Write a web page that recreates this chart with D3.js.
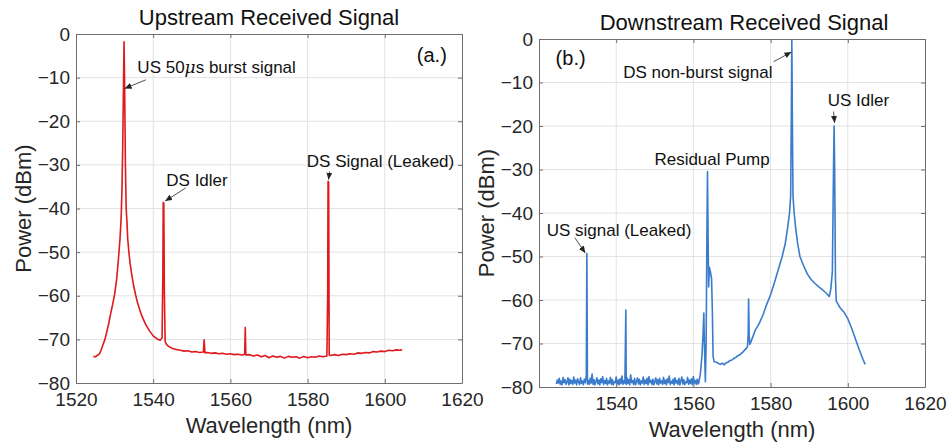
<!DOCTYPE html>
<html>
<head>
<meta charset="utf-8">
<script src="https://cdn.jsdelivr.net/npm/d3@7"></script>
<style>
    body { margin: 0; background: #fff; }
    svg { font-family: Arial, "Liberation Sans", sans-serif; }
</style>
</head>
<body>
<svg id="chart" width="949" height="442"></svg>
<script>
// Tick values shared by both panels
var xTicks = [1520, 1540, 1560, 1580, 1600, 1620];
var yTicks = [0, -10, -20, -30, -40, -50, -60, -70, -80];

// Upstream received spectrum (wavelength nm, power dBm)
var upstream = [
    [1524.5, -73.9], [1525, -74], [1525.5, -73.7], [1526, -73.4], [1526.5, -72.5], [1527, -71.2],
    [1527.5, -70], [1528, -68.2], [1528.5, -66.3], [1529, -64], [1529.5, -62], [1530, -59.7],
    [1530.5, -56.5], [1531, -51.5], [1531.4, -47], [1531.7, -42], [1531.9, -36], [1532.1, -26],
    [1532.3, -12], [1532.45, -1.8], [1532.6, -12], [1532.8, -30], [1533, -40], [1533.2, -43],
    [1533.4, -47], [1533.7, -50], [1534, -52.5], [1534.5, -55.5], [1535, -58], [1535.5, -60],
    [1536, -61.8], [1537, -64.5], [1538, -66.5], [1539, -68], [1540, -69.2], [1541, -69.9],
    [1541.8, -70.2], [1542.3, -69.6], [1542.5, -55], [1542.6, -38.6], [1542.75, -38.8],
    [1542.9, -60], [1543.1, -70.5], [1543.5, -71.2], [1544, -71.6], [1545, -72.1], [1546, -72.3],
    [1547, -72.5], [1548, -72.7], [1549, -72.6], [1550, -72.9], [1551, -72.8], [1552, -73],
    [1553, -72.9], [1553.2, -70.1], [1553.4, -73.1], [1554, -73], [1555, -73.2], [1556, -73.1],
    [1557, -73.3], [1558, -73.2], [1559, -73.4], [1560, -73.3], [1561, -73.5], [1562, -73.4],
    [1563, -73.6], [1563.7, -73.4], [1563.85, -67.3], [1564, -73.6], [1565, -73.5], [1566, -73.8],
    [1567, -73.6], [1568, -74], [1569, -73.7], [1570, -74.2], [1571, -73.8], [1572, -74.1],
    [1573, -73.9], [1574, -74.3], [1575, -73.9], [1576, -74.1], [1577, -74], [1578, -74.3],
    [1579, -73.9], [1580, -74.2], [1581, -74], [1582, -74.1], [1583, -73.8], [1584, -74],
    [1585, -73.8], [1585.2, -60], [1585.3, -33.8], [1585.45, -33.9], [1585.6, -73.6],
    [1586, -73.7], [1587, -73.5], [1588, -73.7], [1589, -73.4], [1590, -73.5], [1591, -73.3],
    [1592, -73.4], [1593, -73.1], [1594, -73.2], [1595, -73], [1596, -73.1], [1597, -72.8],
    [1598, -72.9], [1599, -72.7], [1600, -72.8], [1601, -72.5], [1602, -72.6], [1603, -72.4],
    [1604, -72.5], [1604.5, -72.3]
];

// Downstream received spectrum (wavelength nm, power dBm)
var downstream = [
    [1524.5, -79.3], [1524.75, -78.4], [1525, -79.1], [1525.25, -78.0], [1525.5, -79.4], [1525.75, -78.6],
    [1526, -79.5], [1526.25, -77.8], [1526.5, -79.0], [1526.75, -78.3], [1527, -79.4], [1527.25, -78.9],
    [1527.5, -77.9], [1527.75, -79.5], [1528, -78.2], [1528.25, -79.2], [1528.5, -78.5], [1528.75, -79.4],
    [1529, -77.7], [1529.25, -79.1], [1529.5, -78.4], [1529.75, -79.5], [1530, -78.1], [1530.25, -78.8],
    [1530.5, -79.4], [1530.75, -77.9], [1531, -79.2], [1531.25, -78.6], [1531.5, -79.5], [1531.75, -78.2],
    [1532, -79.0], [1532.25, -77.4], [1532.4, -49.3], [1532.55, -79.3], [1532.75, -78.5], [1533, -79.4],
    [1533.25, -78.0], [1533.5, -79.1], [1533.75, -77.0], [1534, -79.4], [1534.25, -78.3], [1534.5, -79.5],
    [1534.75, -78.7], [1535, -77.9], [1535.25, -79.3], [1535.5, -78.4], [1535.75, -79.5], [1536, -78.1],
    [1536.25, -79.0], [1536.5, -77.6], [1536.75, -79.4], [1537, -78.5], [1537.25, -79.2], [1537.5, -78.0],
    [1537.75, -79.5], [1538, -78.6], [1538.25, -79.1], [1538.5, -77.8], [1538.75, -79.4], [1539, -78.3],
    [1539.25, -79.5], [1539.5, -78.8], [1539.75, -79.0], [1540, -77.7], [1540.25, -79.3], [1540.5, -78.4],
    [1540.75, -79.5], [1541, -78.1], [1541.25, -79.2], [1541.5, -77.5], [1541.75, -79.4], [1542, -78.6],
    [1542.25, -79.1], [1542.5, -62.3], [1542.6, -79.4], [1542.75, -77.8], [1543, -79.2], [1543.25, -78.3],
    [1543.5, -79.5], [1543.75, -77.2], [1544, -79.0], [1544.25, -78.5], [1544.5, -79.4], [1544.75, -78.0],
    [1545, -79.5], [1545.25, -78.7], [1545.5, -77.9], [1545.75, -79.3], [1546, -78.2], [1546.25, -79.5],
    [1546.5, -78.6], [1546.75, -79.1], [1547, -77.7], [1547.25, -79.4], [1547.5, -78.4], [1547.75, -79.2],
    [1548, -78.0], [1548.25, -79.5], [1548.5, -77.6], [1548.75, -79.0], [1549, -78.5], [1549.25, -79.4],
    [1549.5, -78.2], [1549.75, -79.5], [1550, -78.8], [1550.25, -77.9], [1550.5, -79.3], [1550.75, -78.3],
    [1551, -79.5], [1551.25, -78.0], [1551.5, -79.1], [1551.75, -78.6], [1552, -79.4], [1552.25, -77.8],
    [1552.5, -79.2], [1552.75, -78.4], [1553, -79.5], [1553.25, -78.1], [1553.5, -79.0], [1553.75, -77.5],
    [1554, -79.4], [1554.25, -78.7], [1554.5, -79.2], [1554.75, -78.2], [1555, -79.5], [1555.25, -77.9],
    [1555.5, -79.1], [1555.75, -78.5], [1556, -79.4], [1556.25, -78.0], [1556.5, -79.5], [1556.75, -78.6],
    [1557, -77.7], [1557.25, -79.3], [1557.5, -78.3], [1557.75, -79.5], [1558, -78.8], [1558.25, -79.0],
    [1558.5, -77.8], [1558.75, -79.4], [1559, -78.4], [1559.25, -79.2], [1559.5, -78.1], [1559.75, -79.5],
    [1560, -77.6], [1560.25, -79.1], [1560.5, -78.5], [1560.75, -79.4], [1561, -78.2], [1561.25, -79.3],
    [1561.4, -79], [1561.8, -77], [1562.2, -73], [1562.5, -68], [1562.7, -63], [1562.85, -70],
    [1563.1, -78.8], [1563.3, -70], [1563.5, -45], [1563.65, -30.5], [1563.8, -45], [1563.95, -57],
    [1564.15, -52.5], [1564.4, -53.5], [1564.7, -55], [1564.9, -62], [1565.1, -73], [1565.4, -74.2],
    [1566, -74.3], [1566.5, -74.6], [1567, -74.8], [1567.5, -74.5], [1568, -74.9], [1568.5, -74.4],
    [1569, -74.3], [1569.5, -73.9], [1570, -73.8], [1570.5, -73.4], [1571, -73.2], [1571.5, -72.8],
    [1572, -72.6], [1572.5, -72.2], [1573, -71.8], [1573.5, -71.3], [1574, -70.8], [1574.2, -68],
    [1574.3, -59.8], [1574.45, -68], [1574.6, -70.2], [1575, -69.4], [1576, -67], [1577, -65.5],
    [1578, -63.5], [1579, -61], [1580, -58.8], [1581, -56], [1582, -53], [1583, -50],
    [1583.8, -47], [1584.4, -43.5], [1584.9, -40], [1585.2, -36], [1585.35, -20], [1585.5, -0.2],
    [1585.65, -20], [1585.8, -36], [1586.1, -40], [1586.5, -43.5], [1587, -47], [1587.6, -50],
    [1588.5, -52], [1589.5, -54], [1590.5, -55.3], [1591.5, -56.2], [1592.5, -57], [1593.5, -57.7],
    [1594.5, -58.5], [1595.2, -59.2], [1595.6, -57.5], [1596, -53.5], [1596.3, -30], [1596.45, -20],
    [1596.6, -30], [1596.8, -55], [1597, -60.2], [1598, -61.8], [1599, -62.8], [1600, -64.3],
    [1601, -66.5], [1602, -69], [1603, -71.5], [1604, -73.8], [1604.5, -74.8]
];

// Annotation labels: label anchor and arrow ends in data units
var upNotes = [
    { text: 'US 50', mu: true, rest: 's burst signal', lx: 1535.9, ly: -7.5, from: [1538.1, -10.5], to: [1532.6, -12.5] },
    { text: 'DS Idler', lx: 1543.4, ly: -33.5, from: [1548.4, -35.3], to: [1543.1, -38.3] },
    { text: 'DS Signal (Leaked)', lx: 1579.8, ly: -29.1, from: [1585.7, -31.5], to: [1585.4, -33.4] }
];
var downNotes = [
    { text: 'DS non-burst signal', lx: 1541.8, ly: -7.5, from: [1580.8, -5.2], to: [1585.4, -3.0] },
    { text: 'US Idler', lx: 1594.8, ly: -14, from: [1596.3, -16.7], to: [1596.6, -19.3] },
    { text: 'Residual Pump', lx: 1549.9, ly: -27.7, from: null, to: null },
    { text: 'US signal (Leaked)', lx: 1522.0, ly: -43.9, from: [1529.3, -45.7], to: [1532.0, -49.2] }
];

var svg = d3.select('#chart');

// Arrowhead marker for annotations
svg.append('defs').append('marker')
    .attr('id', 'arrow')
    .attr('markerWidth', 8)
    .attr('markerHeight', 8)
    .attr('refX', 7)
    .attr('refY', 3)
    .attr('orient', 'auto')
    .attr('markerUnits', 'userSpaceOnUse')
    .append('path')
    .attr('d', 'M0,0 L7,3 L0,6 z')
    .style('fill', '#222');

function drawPanel(opt) {
    var x = d3.scaleLinear().domain([1520, 1620]).range([opt.left, opt.right]);
    var y = d3.scaleLinear().domain([-80, 0]).range([opt.bottom, opt.top]);
    var g = svg.append('g');

    // grid lines
    g.selectAll('.gx').data(xTicks.slice(1, -1)).enter().append('line')
        .attr('x1', d => x(d)).attr('x2', d => x(d))
        .attr('y1', opt.top).attr('y2', opt.bottom)
        .style('stroke', '#e3e3e3').style('stroke-width', 1);
    g.selectAll('.gy').data(yTicks.slice(1, -1)).enter().append('line')
        .attr('y1', d => y(d)).attr('y2', d => y(d))
        .attr('x1', opt.left).attr('x2', opt.right)
        .style('stroke', '#e3e3e3').style('stroke-width', 1);

    // spectrum trace
    var line = d3.line()
        .x(d => x(d[0]))
        .y(d => y(d[1]));
    g.append('path')
        .datum(opt.data)
        .attr('d', line)
        .style('fill', 'none')
        .style('stroke', opt.color)
        .style('stroke-width', 1.6)
        .style('stroke-linejoin', 'round');

    // axes with inward ticks on all four sides (box on)
    var tick = 4;
    g.append('g').attr('transform', 'translate(0,' + opt.bottom + ')')
        .call(d3.axisBottom(x).tickValues(xTicks).tickSizeInner(-tick).tickSizeOuter(0).tickPadding(10)
            .tickFormat(d => (opt.hideFirstX && d === 1520) ? '' : d));
    g.append('g').attr('transform', 'translate(0,' + opt.top + ')')
        .call(d3.axisTop(x).tickValues(xTicks).tickSizeInner(-tick).tickSizeOuter(0).tickFormat(''));
    g.append('g').attr('transform', 'translate(' + opt.left + ',0)')
        .call(d3.axisLeft(y).tickValues(yTicks).tickSizeInner(-tick).tickSizeOuter(0).tickPadding(6));
    g.append('g').attr('transform', 'translate(' + opt.right + ',0)')
        .call(d3.axisRight(y).tickValues(yTicks).tickSizeInner(-tick).tickSizeOuter(0).tickFormat(''));

    g.selectAll('.domain').style('stroke', '#6e6e6e');
    g.selectAll('.tick line').style('stroke', '#6e6e6e');
    g.selectAll('.tick text')
        .style('font-size', '19px')
        .style('fill', '#262626');

    // title and axis labels
    g.append('text')
        .attr('x', opt.titleX).attr('y', opt.top - 9)
        .attr('text-anchor', 'middle')
        .style('font-size', '22px').style('fill', '#111')
        .text(opt.title);
    g.append('text')
        .attr('x', (opt.left + opt.right) / 2).attr('y', opt.bottom + 50)
        .attr('text-anchor', 'middle')
        .style('font-size', '22px').style('fill', '#262626')
        .text('Wavelength (nm)');
    g.append('text')
        .attr('transform', 'translate(' + (opt.left - 53) + ',' + ((opt.top + opt.bottom) / 2) + ') rotate(-90)')
        .attr('dy', '0.35em')
        .attr('text-anchor', 'middle')
        .style('font-size', '22px').style('fill', '#262626')
        .text('Power (dBm)');

    // panel tag (a.) / (b.)
    g.append('text')
        .attr('x', x(opt.tag[1])).attr('y', y(opt.tag[2]))
        .attr('dy', '0.35em')
        .style('font-size', '20px').style('fill', '#111')
        .text(opt.tag[0]);

    // annotations
    opt.notes.forEach(function (n) {
        var t = g.append('text')
            .attr('x', x(n.lx)).attr('y', y(n.ly))
            .attr('dy', '0.35em')
            .style('font-size', '17px').style('fill', '#111')
            .text(n.text);
        if (n.mu) {
            t.append('tspan').style('font-style', 'italic').style('font-family', '"DejaVu Serif", serif').text('\u03bc');
            t.append('tspan').text(n.rest);
        }
        if (n.from) {
            g.append('line')
                .attr('x1', x(n.from[0])).attr('y1', y(n.from[1]))
                .attr('x2', x(n.to[0])).attr('y2', y(n.to[1]))
                .style('stroke', '#222').style('stroke-width', 0.8)
                .attr('marker-end', 'url(#arrow)');
        }
    });
}

drawPanel({
    left: 76, right: 462, top: 34, bottom: 383,
    data: upstream, color: '#e0191c',
    title: 'Upstream Received Signal', titleX: 269,
    tag: ['(a.)', 1608.3, -4.8],
    notes: upNotes
});

drawPanel({
    left: 539, right: 925, top: 39, bottom: 387,
    data: downstream, color: '#3a7bcc',
    title: 'Downstream Received Signal', titleX: 744,
    tag: ['(b.)', 1524.3, -4.4],
    notes: downNotes,
    hideFirstX: true
});
</script>
</body>
</html>
